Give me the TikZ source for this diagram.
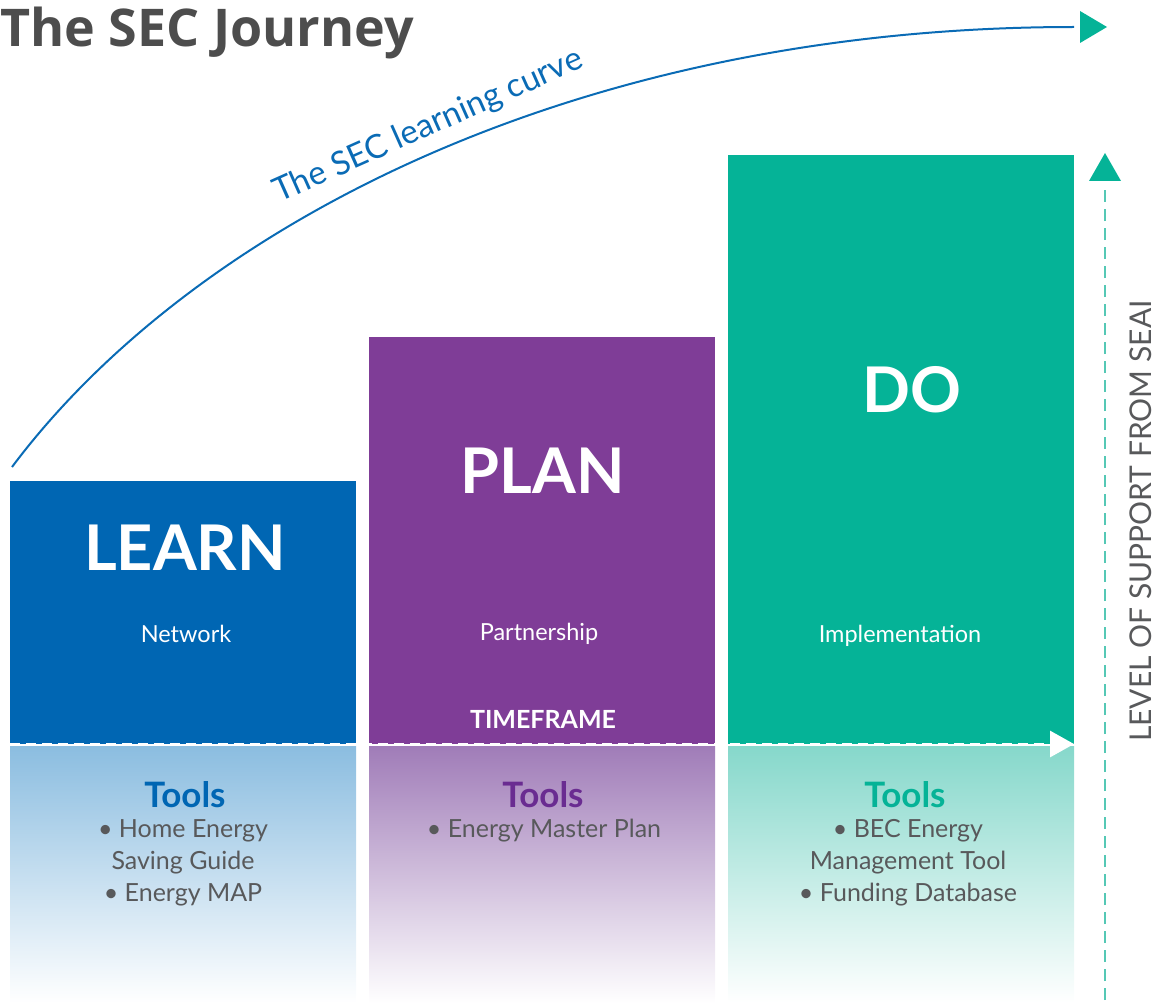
\documentclass[tikz,border=0pt]{standalone}
\usepackage{fontspec}
\setsansfont{Lato}
\renewcommand{\familydefault}{\sfdefault}
\newfontfamily\titlefont{Open Sans}
\usetikzlibrary{arrows.meta}

\definecolor{learnblue}{HTML}{0066B3}
\definecolor{planpurple}{HTML}{7F3D97}
\definecolor{doteal}{HTML}{05B397}
\definecolor{learnlow}{HTML}{8BBDE0}
\definecolor{planlow}{HTML}{A07CB8}
\definecolor{dolow}{HTML}{86D8CB}
\definecolor{plantools}{HTML}{6A2C91}
\definecolor{toolgray}{HTML}{58595B}
\definecolor{titlegray}{HTML}{4D4D4D}
\definecolor{curveblue}{HTML}{0A6BB5}
\definecolor{supportteal}{HTML}{55C8B5}

\begin{document}
\begin{tikzpicture}[x=1pt,y=-1pt,
  stage/.style={anchor=south west,minimum width=346pt,inner sep=0pt,outer sep=0pt},
  bigword/.style={anchor=base,text=white,inner sep=0pt,font=\fontsize{63}{63}\selectfont\bfseries},
  subword/.style={anchor=base,text=white,inner sep=0pt,font=\fontsize{23.5}{23.5}\selectfont},
  toolhead/.style={anchor=base,inner sep=0pt,font=\fontsize{35}{35}\selectfont\bfseries},
  toollist/.style={anchor=north,inner sep=0pt,text=toolgray,align=center,font=\fontsize{25}{32}\selectfont},
  timeline/.style={white,line width=3pt,dash pattern=on 10pt off 6pt,-{Triangle[width=26pt,length=24pt]}},
  supportline/.style={supportteal,line width=1.5pt,dash pattern=on 12pt off 7pt},
  curveline/.style={curveblue,line width=2pt},
  ]
\useasboundingbox (0,0) rectangle (1156,1003);

% title
\node[anchor=base west,inner sep=0pt,text=titlegray,font=\titlefont\bfseries\fontsize{52}{52}\selectfont] (title) at (0,47) {The SEC Journey};

% the three stages
\node[stage,fill=learnblue,minimum height=263pt] (learn) at (10,744) {};
\node[stage,fill=planpurple,minimum height=407pt] (plan) at (369,744) {};
\node[stage,fill=doteal,minimum height=589pt] (do) at (728,744) {};

\shade[top color=learnlow,bottom color=white] (10,746) rectangle (356,1003);
\shade[top color=planlow,bottom color=white] (369,746) rectangle (715,1003);
\shade[top color=dolow,bottom color=white] (728,746) rectangle (1074,1003);

\node[bigword] (learnword) at (185,570) {LEARN};
\node[bigword] (planword) at (543,493) {PLAN};
\node[bigword] (doword) at (912,412) {DO};

\node[subword] (network) at (186,642) {Network};
\node[subword] (partner) at (539,640) {Partnership};
\node[subword] (implement) at (900,642) {Implementation};

\node[anchor=base,inner sep=0pt,text=white,font=\fontsize{25}{25}\selectfont\bfseries] (timeframe) at (543,728) {TIMEFRAME};

% tools
\node[toolhead,text=learnblue] (learntools) at (185,807) {Tools};
\node[toolhead,text=plantools] (plantools) at (543,807) {Tools};
\node[toolhead,text=doteal] (dotools) at (905,807) {Tools};

\node[toollist] (learnlist) at (183,819) {• Home Energy\\Saving Guide\\• Energy MAP};
\node[toollist] (planlist) at (544,819) {• Energy Master Plan};
\node[toollist] (dolist) at (908,819) {• BEC Energy\\Management Tool\\• Funding Database};

% timeframe arrow
\coordinate (tstart) at (10,744);
\coordinate (tend) at (1074,744);
\draw[timeline] (tstart) -- (tend);

% level of support
\coordinate (sbot) at (1105,1000);
\coordinate (stop) at (1105,186);
\coordinate (stip) at (1105,153);
\draw[supportline] (sbot) -- (stop);
\fill[doteal] (stip) -- ++(16,28) -- ++(-32,0) -- cycle;
\node[anchor=base west,rotate=90,inner sep=0pt,text=toolgray,font=\fontsize{30}{30}\selectfont] (support) at (1151,742) {LEVEL OF SUPPORT FROM SEAI};

% learning curve
\coordinate (cstart) at (12,467);
\coordinate (cend) at (1074,27);
\coordinate (ctip) at (1107,27);
\draw[curveline] (cstart) .. controls (192,227) and (574,27) .. (cend);
\fill[doteal] (ctip) -- ++(-27,-16) -- ++(0,32) -- cycle;
\node[anchor=base west,rotate=24,inner sep=0pt,text=curveblue,font=\fontsize{33}{33}\selectfont] (curvelabel) at (279,203) {The SEC learning curve};
\end{tikzpicture}
\end{document}
